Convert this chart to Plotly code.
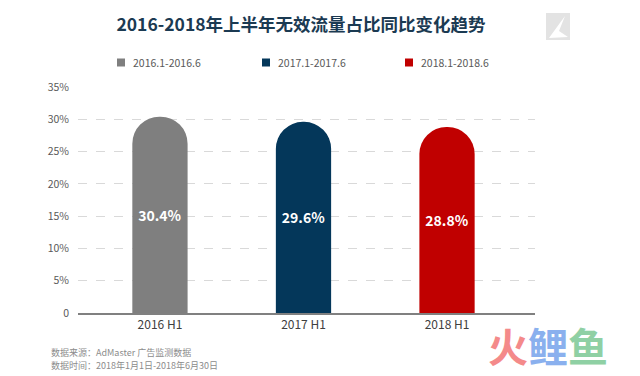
import plotly.graph_objects as go

categories = ["2016 H1", "2017 H1", "2018 H1"]
series_names = ["2016.1-2016.6", "2017.1-2017.6", "2018.1-2018.6"]
values = [30.4, 29.6, 28.8]
colors = ["#7f7f7f", "#04375a", "#c00000"]
y_ticks = [0, 5, 10, 15, 20, 25, 30, 35]
y_tick_labels = ["0", "5%", "10%", "15%", "20%", "25%", "30%", "35%"]
footer_lines = ["数据来源：AdMaster 广告监测数据", "数据时间：2018年1月1日-2018年6月30日"]

FONT = "Noto Sans CJK SC"
W, H = 640, 376
L, R, T, B = 78, 105, 87, 63
PW, PH = W - L - R, H - T - B


def px(x):
    return (x - L) / PW


def py(y):
    return (H - B - y) / PH


fig = go.Figure()
for cat, name, v, c in zip(categories, series_names, values, colors):
    fig.add_trace(go.Bar(
        x=[cat], y=[v], name=name, showlegend=False,
        marker=dict(color=c, cornerradius="50%", line=dict(width=0)),
        width=0.385,
        text=[f"{v:.1f}%"], textposition="inside", insidetextanchor="middle",
        textfont=dict(family=FONT, size=14, color="white", weight="bold"),
        textangle=0, hoverinfo="skip",
    ))

fig.update_layout(
    width=W, height=H,
    margin=dict(l=L, r=R, t=T, b=B, autoexpand=False),
    paper_bgcolor="white", plot_bgcolor="white",
    barmode="overlay",
    showlegend=False,
    font=dict(family=FONT, color="#595959"),
    title=dict(text="<b>2016-2018年上半年无效流量占比同比变化趋势</b>",
               x=301 / W, xanchor="center", y=1 - 25 / H, yanchor="middle",
               font=dict(family=FONT, size=17.5, color="#1b3a52")),
    xaxis=dict(type="category", range=[-0.571, 2.613], showline=True,
               linecolor="#808080", linewidth=2, showgrid=False, ticks="",
               tickfont=dict(family=FONT, size=12, color="#404040"),
               fixedrange=True),
    yaxis=dict(range=[0, 35], tickvals=y_ticks, ticktext=y_tick_labels,
               showgrid=True, gridcolor="#d9d9d9", griddash="dash", gridwidth=1,
               zeroline=False, showline=False, ticks="",
               tickfont=dict(family=FONT, size=10.5, color="#595959"),
               ticklabelstandoff=8, fixedrange=True),
)

# manual legend
legend_x = [117, 262, 405]
for lx, name, c in zip(legend_x, series_names, colors):
    fig.add_shape(type="rect", xref="paper", yref="paper",
                  x0=px(lx), x1=px(lx + 8), y0=py(66.5), y1=py(58.5),
                  fillcolor=c, line=dict(width=0))
    fig.add_annotation(text=name, xref="paper", yref="paper",
                       x=px(lx + 14), xanchor="left", y=py(62.5), yanchor="middle",
                       showarrow=False, font=dict(family=FONT, size=10.5, color="#595959"))

# footer notes
for i, line in enumerate(footer_lines):
    fig.add_annotation(text=line, xref="paper", yref="paper",
                       x=px(49), xanchor="left", y=py(352 + 13 * i), yanchor="middle",
                       showarrow=False, font=dict(family=FONT, size=9, color="#8c8c8c"))

# watermark
fig.add_annotation(text="<span style='color:#f48a8a'>火</span><span style='color:#8ab0ee'>鲤</span><span style='color:#8fd0a4'>鱼</span>",
                   xref="paper", yref="paper",
                   x=px(548), xanchor="center", y=py(345), yanchor="middle",
                   showarrow=False, font=dict(family=FONT, size=40, color="#8ab0ee", weight="bold"))

# logo (grey square with white stroke)
fig.add_shape(type="rect", xref="paper", yref="paper",
              x0=px(546), x1=px(570), y0=py(40), y1=py(13),
              fillcolor="#e3e3e3", line=dict(width=0), layer="above")
fig.add_shape(type="path", xref="paper", yref="paper",
              path=f"M {px(549)},{py(38)} L {px(565)},{py(16)} L {px(559)},{py(31)} L {px(568)},{py(37)} Z",
              fillcolor="white", line=dict(width=0), layer="above")

fig.write_html("out.html", config={"displayModeBar": False},
               post_script="document.body.style.margin='0';")
